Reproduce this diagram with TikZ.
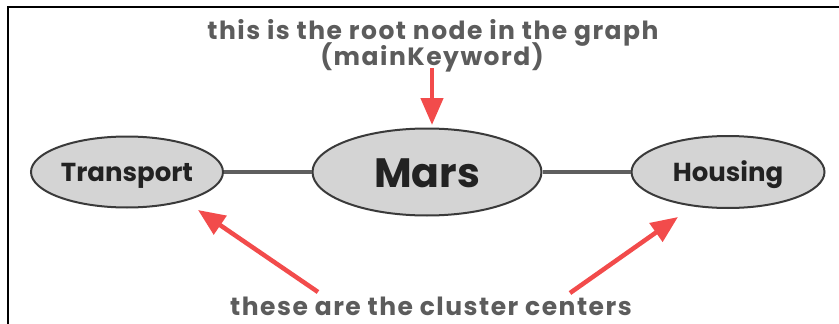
\documentclass[tikz,border=0pt]{standalone}
\usepackage{fontspec}
\setmainfont{Poppins}
\usetikzlibrary{arrows.meta,shapes.geometric}
\definecolor{lblgray}{HTML}{5C5C5C}
\definecolor{nodetext}{HTML}{222222}
\definecolor{nodefill}{HTML}{D4D4D4}
\definecolor{nodeborder}{HTML}{3A3A3A}
\definecolor{edgegray}{HTML}{5F5F5F}
\definecolor{arrowred}{HTML}{F24B4B}
\tikzset{
  cnode/.style={ellipse, draw=nodeborder, line width=2pt, fill=nodefill, inner sep=0pt, text=nodetext, text height=18pt, text depth=0pt, font=\bfseries\fontsize{26}{30}\selectfont},
  lbltext/.style={text=lblgray, font=\bfseries\fontsize{25}{28}\selectfont\addfontfeature{LetterSpace=6}, inner sep=0pt, anchor=base},
  edgeline/.style={draw=edgegray, line width=4.5pt},
  redarrow/.style={draw=arrowred, line width=4.5pt, -{Triangle[length=27pt,width=22pt]}, arrowred}
}
\begin{document}
\begin{tikzpicture}[x=1pt,y=-1pt]
\useasboundingbox (0,0) rectangle (839,324);
\draw[line width=1.3pt] (8,324) -- (8,7) -- (839,7);
\node[cnode, minimum width=192pt, minimum height=71pt] (transport) at (127,172) {Transport};
\node[cnode, minimum width=229pt, minimum height=87pt, text height=30pt, font=\bfseries\fontsize{41}{46}\selectfont] (mars) at (427,172) {Mars};
\node[cnode, minimum width=193pt, minimum height=72pt] (housing) at (728,172) {Housing};
\draw[edgeline] (transport.east) -- (mars.west);
\draw[edgeline] (mars.east) -- (housing.west);
\node[lbltext] (roottxt) at (433,39) {this is the root node in the graph};
\node[lbltext] (kwtxt) at (432,65) {(mainKeyword)};
\node[lbltext] (clustertxt) at (431,315) {these are the cluster centers};
\coordinate (topTail) at (432,68);
\coordinate (topTip) at (432,125);
\coordinate (leftTail) at (318,292);
\coordinate (leftTip) at (198,210);
\coordinate (rightTail) at (570,293);
\coordinate (rightTip) at (678,217);
\draw[redarrow] (topTail) -- (topTip);
\draw[redarrow] (leftTail) -- (leftTip);
\draw[redarrow] (rightTail) -- (rightTip);
\end{tikzpicture}
\end{document}
